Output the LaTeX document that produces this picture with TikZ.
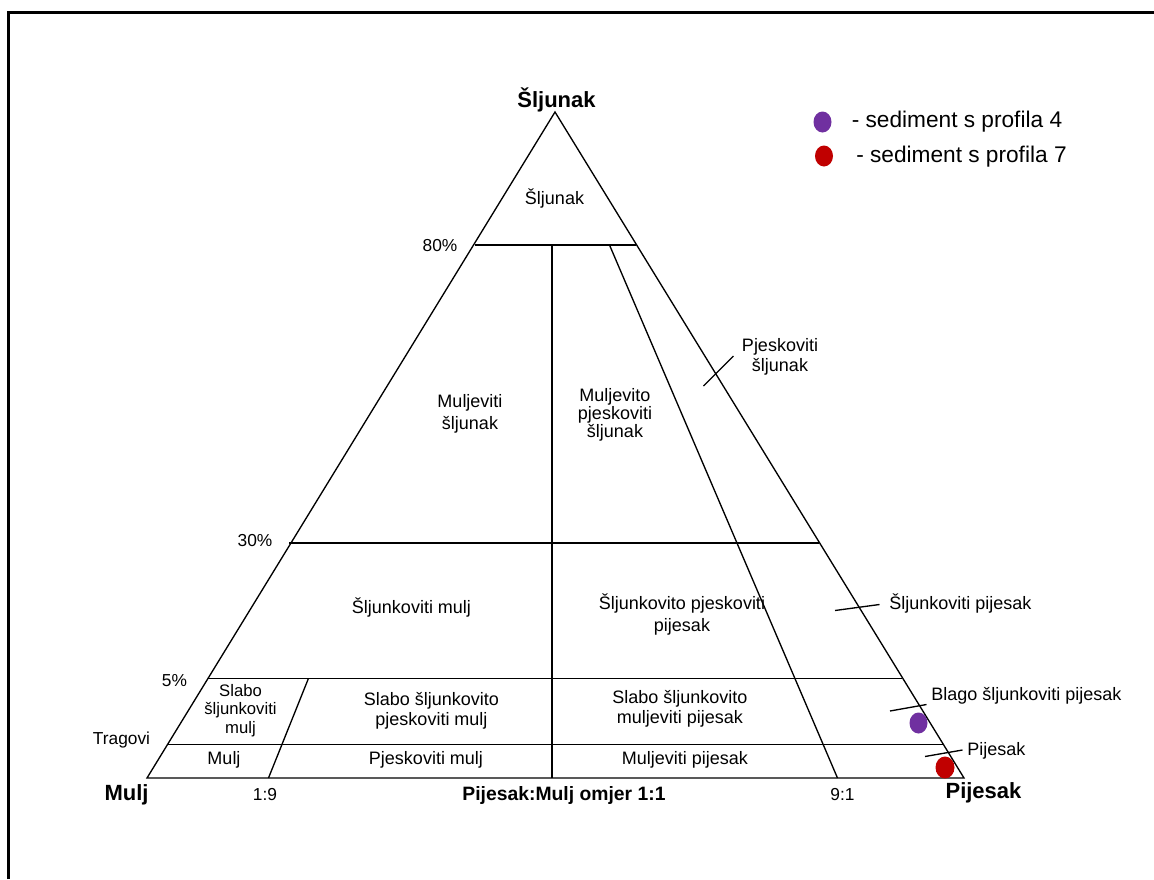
\documentclass[tikz,border=0pt]{standalone}
\usepackage{fontspec}
\setmainfont{Liberation Sans}
\usetikzlibrary{positioning,shapes.geometric}
\definecolor{dotpurple}{HTML}{7030A0}
\definecolor{dotred}{HTML}{C00000}

\tikzset{
  field/.style={align=center, inner sep=0pt, font=\fontsize{13.5}{16.5}\selectfont},
  corner/.style={inner sep=0pt, font=\fontsize{16.5}{19}\selectfont\bfseries},
  scalelbl/.style={inner sep=0pt, font=\fontsize{13}{15}\selectfont},
  sidelbl/.style={anchor=west, inner sep=0pt, font=\fontsize{13.5}{16.5}\selectfont},
  sample/.style={ellipse, draw=none, inner sep=0pt, minimum width=13.5pt, minimum height=15.75pt},
  legendlbl/.style={anchor=west, inner sep=0pt, font=\fontsize{17}{20}\selectfont},
  grid line/.style={line width=1pt},
}

\begin{document}
\begin{tikzpicture}[x=0.75pt, y=-0.75pt]
\useasboundingbox (0,0) rectangle (1154,879);
% frame
\draw[line width=2pt] (8.5,879) -- (8.5,12.5) -- (1154,12.5);

% corners
\coordinate (sl) at (555,112);
\coordinate (mu) at (147,778);
\coordinate (pi) at (964,778);

% gravel boundaries
\coordinate (g80l) at (474.5,245);
\coordinate (g80r) at (636,245);
\coordinate (g30l) at (289,543);
\coordinate (g30r) at (819,543);
\coordinate (g5l)  at (208,678.3);
\coordinate (g5r)  at (902,678.3);
\coordinate (trl)  at (167,744.3);
\coordinate (trr)  at (942.5,744.3);

% ratio lines
\coordinate (midt) at (552,245);
\coordinate (midb) at (552,778);
\coordinate (r91t) at (609.5,245);
\coordinate (r91b) at (837.5,778);
\coordinate (r19t) at (308.5,678.3);
\coordinate (r19b) at (268.5,778);

\draw[grid line] (sl) -- (mu) -- (pi) -- cycle;
\draw[grid line] (g80l) -- (g80r);
\draw[grid line] (g30l) -- (g30r);
\draw[grid line] (g5l) -- (g5r);
\draw[grid line] (trl) -- (trr);
\draw[grid line] (midt) -- (midb);
\draw[grid line] (r91t) -- (r91b);
\draw[grid line] (r19t) -- (r19b);

% corner and scale labels
\node[corner] (lsl) at (556.5,100) {Šljunak};
\node[corner] (lmu) at (126.5,795) {Mulj};
\node[corner] (lpi) at (983.5,793) {Pijesak};
\node[corner, font=\fontsize{14.5}{17}\selectfont\bfseries] (lomj) at (564,795) {Pijesak:Mulj omjer 1:1};
\node[scalelbl] (l19) at (265,795) {1:9};
\node[scalelbl] (l91) at (842.5,795) {9:1};
\node[scalelbl] (p80) at (440,246) {80\%};
\node[scalelbl] (p30) at (255,541) {30\%};
\node[scalelbl] (p5) at (174.5,680.5) {5\%};
\node[scalelbl] (ptr) at (121.5,740) {Tragovi};

% fields
\node[field] (f1) at (554.5,198.5) {Šljunak};
\node[field, font=\fontsize{13.5}{16.5}\selectfont] (f2) at (470,414) {Muljeviti\\šljunak};
\node[field, font=\fontsize{13.5}{11.6}\selectfont] (f3) at (615,415) {Muljevito\\pjeskoviti\\šljunak};
\node[field] (f4) at (411.5,607) {Šljunkoviti mulj};
\node[field] (f5) at (682,614) {Šljunkovito pjeskoviti\\pijesak};
\node[field, font=\fontsize{12.5}{14.1}\selectfont] (f6) at (240.5,710.5) {Slabo\\šljunkoviti\\mulj};
\node[field, font=\fontsize{13.5}{15.2}\selectfont] (f7) at (431.5,711) {Slabo šljunkovito\\pjeskoviti mulj};
\node[field, font=\fontsize{13.5}{15.2}\selectfont] (f8) at (680,709) {Slabo šljunkovito\\muljeviti pijesak};
\node[field] (f9) at (224,760) {Mulj};
\node[field] (f10) at (426,760) {Pjeskoviti mulj};
\node[field] (f11) at (685,760) {Muljeviti pijesak};

% side labels with ticks
\node[field, font=\fontsize{13.5}{15}\selectfont] (s1) at (780,357) {Pjeskoviti\\šljunak};
\coordinate (t1a) at (703.5,386);
\coordinate (t1b) at (733.5,356);
\draw[grid line] (t1a) -- (t1b);
\node[sidelbl] (s2) at (889,603) {Šljunkoviti pijesak};
\coordinate (t2a) at (835,610.5);
\coordinate (t2b) at (879.5,604.5);
\draw[grid line] (t2a) -- (t2b);
\node[sidelbl] (s3) at (931,696) {Blago šljunkoviti pijesak};
\coordinate (t3a) at (890,711);
\coordinate (t3b) at (926.5,704.5);
\draw[grid line] (t3a) -- (t3b);
\node[sidelbl] (s4) at (967,750.5) {Pijesak};
\coordinate (t4a) at (925,756.5);
\coordinate (t4b) at (962.5,750);
\draw[grid line] (t4a) -- (t4b);

% samples
\node[sample, fill=dotpurple] (sp4) at (918.5,723) {};
\node[sample, fill=dotred, minimum width=14.25pt, minimum height=16.5pt] (sp7) at (945,767.5) {};

% legend
\node[sample, fill=dotpurple] (lg4) at (822.5,122) {};
\node[legendlbl] (lt4) at (851.5,122) {- sediment s profila 4};
\node[sample, fill=dotred] (lg7) at (824,156) {};
\node[legendlbl] (lt7) at (856,156.5) {- sediment s profila 7};
\end{tikzpicture}
\end{document}
